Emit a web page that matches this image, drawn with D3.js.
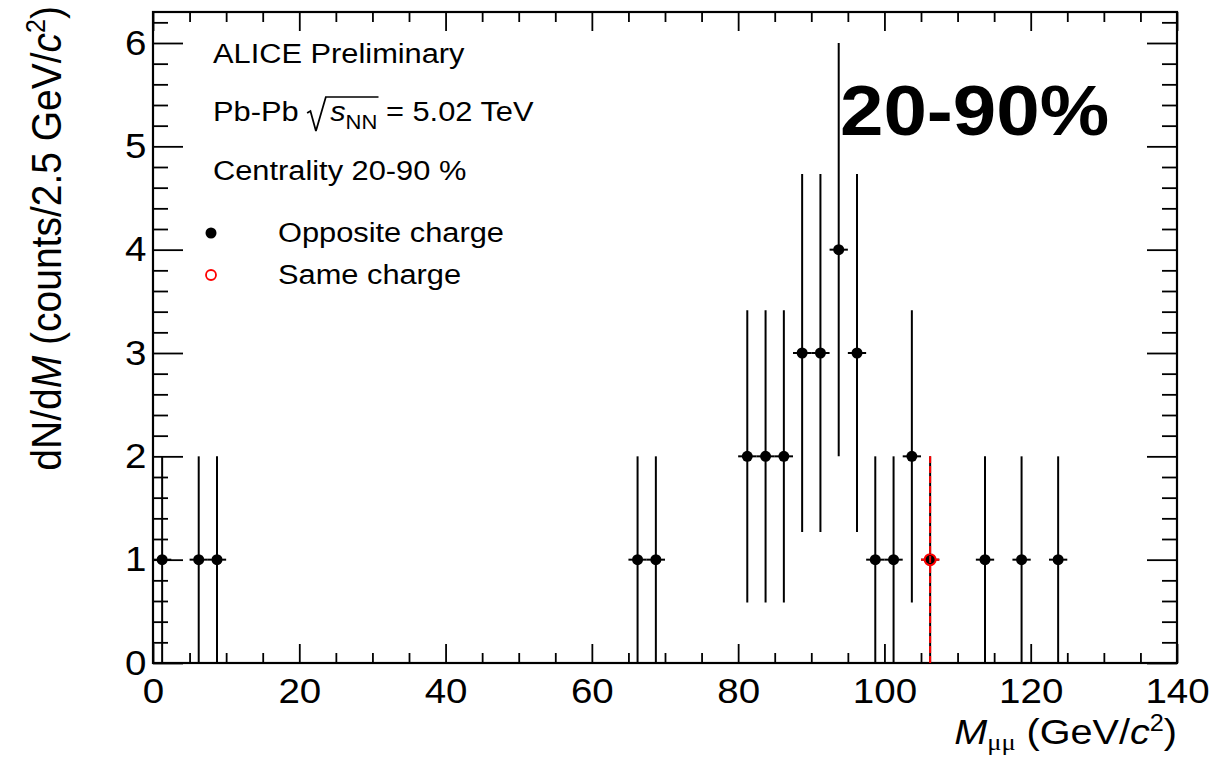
<!DOCTYPE html>
<html>
<head>
<meta charset="utf-8">
<script src="https://cdn.jsdelivr.net/npm/d3@7"></script>
<style>
  body { margin: 0; background: #fff; }
  svg { display: block; }
  text { font-family: "Liberation Sans", Arial, Helvetica, sans-serif; fill: #000; }
</style>
</head>
<body>
<svg id="chart" width="1231" height="758"></svg>
<script>
// Dimuon invariant-mass spectrum in 2.5 GeV/c^2 bins
const binWidth = 2.5;
const oppositeMass   = [1.25, 6.25, 8.75, 66.25, 68.75, 81.25, 83.75, 86.25, 88.75, 91.25,
                        93.75, 96.25, 98.75, 101.25, 103.75, 106.25, 113.75, 118.75, 123.75];
const oppositeCounts = [1, 1, 1, 1, 1, 2, 2, 2, 3, 3,
                        4, 3, 1, 1, 2, 1, 1, 1, 1];
const sameMass   = [106.25];
const sameCounts = [1];

const xTickValues = [0, 20, 40, 60, 80, 100, 120, 140];
const xMinorValues = [5, 10, 15, 25, 30, 35, 45, 50, 55, 65, 70, 75, 85, 90, 95, 105, 110, 115, 125, 130, 135];
const yTickValues = [0, 1, 2, 3, 4, 5, 6];
const yMinorValues = [0.2, 0.4, 0.6, 0.8, 1.2, 1.4, 1.6, 1.8, 2.2, 2.4, 2.6, 2.8, 3.2, 3.4, 3.6, 3.8,
                      4.2, 4.4, 4.6, 4.8, 5.2, 5.4, 5.6, 5.8, 6.2];

const legendLabels = ["Opposite charge", "Same charge"];

// frame and text geometry
const frame = { left: 153, right: 1177, top: 12, bottom: 663 };
const sx = 1.1;           // horizontal text stretch
const tickFont = 35, noteFont = 28;

const svg = d3.select("#chart");

const x = d3.scaleLinear().domain([0, 140]).range([frame.left, frame.right]);
const y = d3.scaleLinear().domain([0, 6.3]).range([frame.bottom, frame.top]);

// Poisson uncertainty of a bin count
const err = n => Math.sqrt(n);

// ---- axes (ticks point inward, mirrored on top/right) ----
function styleAxis(sel, strokeW) {
  sel.select(".domain").remove();
  sel.selectAll(".tick line").attr("stroke", "#000").attr("stroke-width", strokeW);
  sel.attr("font-family", null).attr("font-size", null);
}

// bottom major with labels
const gxb = svg.append("g").attr("transform", `translate(0,${frame.bottom})`)
  .call(d3.axisBottom(x).tickValues(xTickValues).tickSize(-19).tickSizeOuter(0)
        .tickPadding(15).tickFormat(d3.format("d")));
styleAxis(gxb, 1.8);
gxb.selectAll(".tick text").attr("font-size", tickFont).attr("transform", `scale(${sx},1)`);

// bottom minor
styleAxis(svg.append("g").attr("transform", `translate(0,${frame.bottom})`)
  .call(d3.axisBottom(x).tickValues(xMinorValues).tickSize(-10).tickSizeOuter(0).tickFormat("")), 1.8);

// top mirror
styleAxis(svg.append("g").attr("transform", `translate(0,${frame.top})`)
  .call(d3.axisTop(x).tickValues(xTickValues).tickSize(-19).tickSizeOuter(0).tickFormat("")), 1.8);
styleAxis(svg.append("g").attr("transform", `translate(0,${frame.top})`)
  .call(d3.axisTop(x).tickValues(xMinorValues).tickSize(-10).tickSizeOuter(0).tickFormat("")), 1.8);

// left major with labels
const gyl = svg.append("g").attr("transform", `translate(${frame.left},0)`)
  .call(d3.axisLeft(y).tickValues(yTickValues).tickSize(-30).tickSizeOuter(0)
        .tickPadding(6).tickFormat(d3.format("d")));
styleAxis(gyl, 1.8);
gyl.selectAll(".tick text").attr("font-size", tickFont).attr("transform", `scale(${sx},1)`);

styleAxis(svg.append("g").attr("transform", `translate(${frame.left},0)`)
  .call(d3.axisLeft(y).tickValues(yMinorValues).tickSize(-15).tickSizeOuter(0).tickFormat("")), 1.8);

// right mirror
styleAxis(svg.append("g").attr("transform", `translate(${frame.right},0)`)
  .call(d3.axisRight(y).tickValues(yTickValues).tickSize(-30).tickSizeOuter(0).tickFormat("")), 1.8);
styleAxis(svg.append("g").attr("transform", `translate(${frame.right},0)`)
  .call(d3.axisRight(y).tickValues(yMinorValues).tickSize(-15).tickSizeOuter(0).tickFormat("")), 1.8);

// frame
svg.append("rect")
  .attr("x", frame.left).attr("y", frame.top)
  .attr("width", frame.right - frame.left).attr("height", frame.bottom - frame.top)
  .attr("fill", "none").attr("stroke", "#000").attr("stroke-width", 2.2);

// ---- axis titles ----
const xt = svg.append("g").attr("transform", `translate(${frame.right},744) scale(${sx},1)`)
  .append("text").attr("text-anchor", "end").attr("font-size", 36);
xt.append("tspan").attr("font-style", "italic").text("M");
xt.append("tspan").attr("font-family", "'Liberation Serif', 'DejaVu Serif', serif")
  .attr("font-size", 24).attr("dy", 6).text("\u03BC\u03BC");
xt.append("tspan").attr("dy", -6).text(" (GeV/");
xt.append("tspan").attr("font-style", "italic").text("c");
xt.append("tspan").attr("font-size", 23).attr("dy", -13).text("2");
xt.append("tspan").attr("dy", 13).text(")");

const yt = svg.append("g").attr("transform", `translate(61,6) scale(1.07,1) rotate(-90)`)
  .append("text").attr("text-anchor", "end").attr("font-size", 39);
yt.append("tspan").text("dN/d");
yt.append("tspan").attr("font-style", "italic").text("M");
yt.append("tspan").text(" (counts/2.5 GeV/");
yt.append("tspan").attr("font-style", "italic").text("c");
yt.append("tspan").attr("font-size", 25).attr("dy", -15).text("2");
yt.append("tspan").attr("dy", 15).text(")");

// ---- data: opposite charge ----
const opp = oppositeMass.map((m, i) => ({ m, n: oppositeCounts[i] }));
const gOpp = svg.append("g").attr("stroke", "#000").attr("stroke-width", 2);
gOpp.selectAll("line.v").data(opp).join("line").attr("class", "v")
  .attr("x1", d => x(d.m)).attr("x2", d => x(d.m))
  .attr("y1", d => y(Math.max(0, d.n - err(d.n)))).attr("y2", d => y(d.n + err(d.n)));
gOpp.selectAll("line.h").data(opp).join("line").attr("class", "h")
  .attr("x1", d => x(d.m - binWidth / 2)).attr("x2", d => x(d.m + binWidth / 2))
  .attr("y1", d => y(d.n)).attr("y2", d => y(d.n));
svg.append("g").selectAll("circle").data(opp).join("circle")
  .attr("cx", d => x(d.m)).attr("cy", d => y(d.n)).attr("r", 5.5).attr("fill", "#000");

// ---- data: same charge ----
const same = sameMass.map((m, i) => ({ m, n: sameCounts[i] }));
const gSame = svg.append("g").attr("stroke", "#ff0000").attr("stroke-width", 2);
gSame.selectAll("line.v").data(same).join("line").attr("class", "v")
  .attr("stroke-dasharray", "7,3")
  .attr("x1", d => x(d.m)).attr("x2", d => x(d.m))
  .attr("y1", d => y(Math.max(0, d.n - err(d.n)))).attr("y2", d => y(d.n + err(d.n)));
gSame.selectAll("line.hl").data(same).join("line").attr("class", "hl")
  .attr("x1", d => x(d.m - binWidth / 2)).attr("x2", d => x(d.m) - 5)
  .attr("y1", d => y(d.n)).attr("y2", d => y(d.n));
gSame.selectAll("line.hr").data(same).join("line").attr("class", "hr")
  .attr("x1", d => x(d.m) + 5).attr("x2", d => x(d.m + binWidth / 2))
  .attr("y1", d => y(d.n)).attr("y2", d => y(d.n));
svg.append("g").selectAll("circle").data(same).join("circle")
  .attr("cx", d => x(d.m)).attr("cy", d => y(d.n)).attr("r", 5.5)
  .attr("fill", "none").attr("stroke", "#ff0000").attr("stroke-width", 2);

// ---- annotations ----
function note(px, py) {
  return svg.append("g").attr("transform", `translate(${px},${py}) scale(${sx},1)`);
}
note(213, 63).append("text").attr("font-size", noteFont).text("ALICE Preliminary");

const energyG = note(213, 121);
const et = energyG.append("text").attr("font-size", noteFont);
et.append("tspan").text("Pb-Pb ");
et.append("tspan").attr("dx", 21).attr("font-style", "italic").text("s");
et.append("tspan").attr("font-size", 20).attr("dy", 8).text("NN");
et.append("tspan").attr("dy", -8).text(" = 5.02 TeV");
{
  const node = et.node();
  const sBox = node.getExtentOfChar(6);
  const nBox = node.getExtentOfChar(8);
  const s0 = sBox.x, nEnd = nBox.x + nBox.width;
  energyG.append("path")
    .attr("d", `M${s0 - 21},-8 L${s0 - 18},-10 L${s0 - 13},10 L${s0 - 4},-24 L${nEnd + 1},-24`)
    .attr("fill", "none").attr("stroke", "#000").attr("stroke-width", 1.6)
    .attr("stroke-linejoin", "miter");
}

note(213, 180).append("text").attr("font-size", noteFont).text("Centrality 20-90 %");

note(840, 135).append("text").attr("font-size", 71).attr("font-weight", "bold").text("20-90%");

// ---- legend ----
const legend = svg.append("g");
legend.append("circle").attr("cx", 211).attr("cy", 233).attr("r", 5.5).attr("fill", "#000");
legend.append("circle").attr("cx", 211).attr("cy", 275).attr("r", 5)
  .attr("fill", "none").attr("stroke", "#ff0000").attr("stroke-width", 1.8);
legendLabels.forEach((label, i) => {
  note(278, 242 + i * 42).append("text").attr("font-size", noteFont).text(label);
});
</script>
</body>
</html>
